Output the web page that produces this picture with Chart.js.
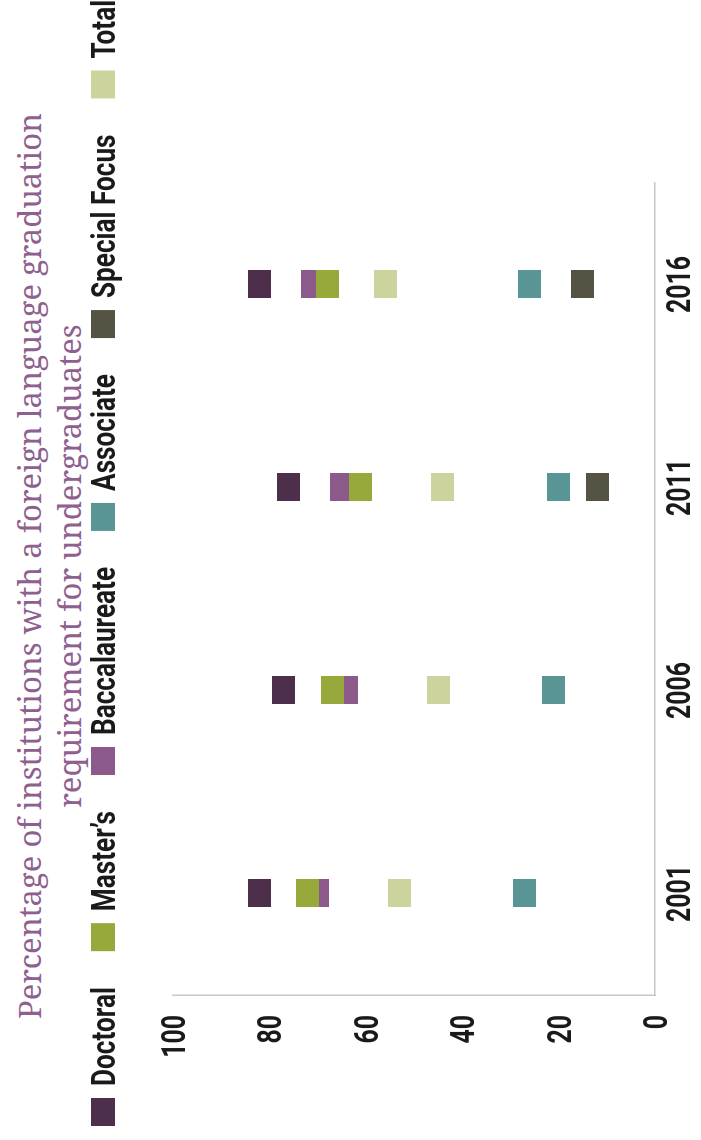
<!DOCTYPE html>
<html>
<head>
<meta charset="utf-8">
<title>Foreign language graduation requirement</title>
<script src="https://cdn.jsdelivr.net/npm/chart.js@4.4.1/dist/chart.umd.min.js"></script>
<style>
  body { margin: 0; background: #fff; overflow: hidden; }
  /* the whole chart is laid out landscape, then turned a quarter turn */
  #frame {
    position: absolute; left: 0; top: 0; width: 1140px; height: 701px;
    transform-origin: 0 0; transform: translate(0, 1140px) rotate(-90deg);
  }
  #title {
    position: absolute; left: 0; top: 9px; width: 1148px; text-align: center;
    font: 31px/40px 'Noto Serif', 'DejaVu Serif', serif; color: #8e6090;
  }
  #chart { position: absolute; left: 0; top: 0; }
</style>
</head>
<body>
<div id="frame">
  <div id="title">Percentage of institutions with a foreign language graduation<br>requirement for undergraduates</div>
  <canvas id="chart" width="1140" height="701"></canvas>
</div>
<script>
const years = ['2001', '2006', '2011', '2016'];

const doctoral      = [82, 77, 76, 82];
const masters       = [72, 67, 61, 68];
const baccalaureate = [70, 64, 65, 71];
const associate     = [27, 21, 20, 26];
const specialFocus  = [null, null, 12, 15];
const total         = [53, 45, 44, 56];

const seriesNames = ['Doctoral', 'Master’s', 'Baccalaureate', 'Associate', 'Special Focus', 'Total'];
const seriesData = [doctoral, masters, baccalaureate, associate, specialFocus, total];
const seriesColors = ['#4e2f4b', '#97a93a', '#8b5a8a', '#599595', '#555343', '#ccd39d'];

const axisColor = '#c8c8c8';
const textColor = '#1a1a1a';
const labelFont = 'bold 34px Roboto';
const tickSqueeze = 0.73;     // horizontal squeeze for the condensed labels
const legendSqueeze = 0.77;

// little filled rectangle used as the point marker
function marker(color) {
  const c = document.createElement('canvas');
  c.width = 28;
  c.height = 23;
  const ctx = c.getContext('2d');
  ctx.fillStyle = color;
  ctx.fillRect(0, 0, c.width, c.height);
  return c;
}

// draws text narrowed horizontally, returns the drawn width
function narrowText(ctx, text, x, y, align, squeeze) {
  ctx.save();
  ctx.font = labelFont;
  const w = ctx.measureText(text).width * squeeze;
  let left = x;
  if (align === 'right') left = x - w;
  else if (align === 'center') left = x - w / 2;
  ctx.translate(left, y);
  ctx.scale(squeeze, 1);
  ctx.fillStyle = textColor;
  ctx.textAlign = 'left';
  ctx.textBaseline = 'alphabetic';
  ctx.fillText(text, 0, 0);
  ctx.restore();
  return w;
}

// tick labels and legend in the condensed face
const condensedLabels = {
  id: 'condensedLabels',
  afterDraw(chart) {
    const ctx = chart.ctx;
    const area = chart.chartArea;
    const xs = chart.scales.x;
    const ys = chart.scales.y;

    xs.ticks.forEach((t, i) => {
      narrowText(ctx, chart.data.labels[i], xs.getPixelForTick(i), area.bottom + 35, 'center', tickSqueeze);
    });
    ys.ticks.forEach(t => {
      narrowText(ctx, String(t.value), area.left - 20, ys.getPixelForValue(t.value) + 12, 'right', tickSqueeze);
    });

    let cx = 14;
    chart.data.datasets.forEach(ds => {
      ctx.fillStyle = ds.backgroundColor;
      ctx.fillRect(cx, 91, 28, 24);
      cx += 28 + 12;
      cx += narrowText(ctx, ds.label, cx, 115, 'left', legendSqueeze) + 36;
    });
  }
};

new Chart(document.getElementById('chart'), {
  type: 'line',
  data: {
    labels: years,
    datasets: seriesNames.map((name, i) => ({
      label: name,
      data: seriesData[i],
      showLine: false,
      pointStyle: marker(seriesColors[i]),
      pointRadius: 12,
      pointHoverRadius: 12,
      backgroundColor: seriesColors[i],
      borderColor: seriesColors[i]
    }))
  },
  options: {
    responsive: false,
    animation: false,
    events: [],
    layout: { padding: { left: 137, right: 183, top: 173, bottom: 38 } },
    plugins: {
      legend: { display: false },
      tooltip: { enabled: false }
    },
    scales: {
      x: {
        offset: true,
        grid: { display: false },
        border: { display: true, color: axisColor, width: 1.5 },
        ticks: { display: false }
      },
      y: {
        min: 0,
        max: 100,
        grid: { display: false },
        border: { display: true, color: axisColor, width: 1.5 },
        ticks: { display: false, stepSize: 20 }
      }
    }
  },
  plugins: [condensedLabels]
});
</script>
</body>
</html>
